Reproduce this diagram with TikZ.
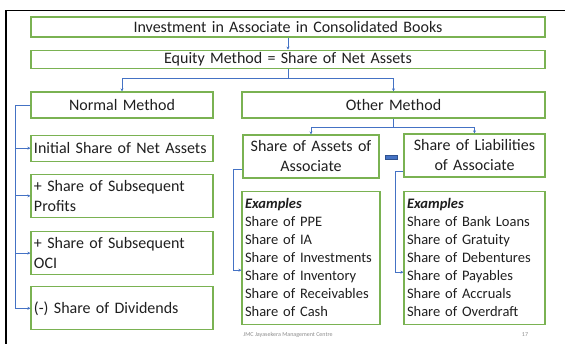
\documentclass[tikz,border=0pt]{standalone}
\usepackage{fontspec}
\setmainfont{Carlito}
\usetikzlibrary{arrows.meta,shapes,positioning}
\usetikzlibrary{calc}
\definecolor{boxgreen}{RGB}{122,178,82}
\definecolor{linkblue}{RGB}{68,114,196}
\definecolor{minusedge}{RGB}{47,82,143}

\begin{document}
\begin{tikzpicture}[x=1pt, y=-1pt, auto]
            \tikzstyle{block} = [rectangle, draw=boxgreen, line width=1.2pt, inner xsep=3pt, inner ysep=0pt, font=\fontsize{16}{20}\selectfont, text=black!88, text centered]
            \tikzstyle{wideblock} = [block, text width=508pt]
            \tikzstyle{leftblock} = [block, text width=176pt, align=left]
            \tikzstyle{listblock} = [block, align=left, font=\fontsize{14.5}{18}\selectfont]
            \tikzstyle{link} = [linkblue, line width=0.8pt, -{Stealth[length=3pt,width=3pt]}]
            \tikzstyle{footer} = [font=\fontsize{6}{7}\selectfont, text=black!45]

            \useasboundingbox (0,0) rectangle (565,344);
            \draw [line width=1.6pt] (6,344) -- (6,10.5) -- (565,10.5);

            \node [wideblock, minimum height=20pt] (invest) at (288,27) {Investment in Associate in Consolidated Books};
            \node [wideblock, minimum height=18pt, below=12pt of invest] (equity) {Equity Method = Share of Net Assets};
            \node [block, text width=176pt, minimum height=26pt] (normal) at (122,105) {Normal Method};
            \node [block, text width=297pt, minimum height=26pt] (other) at (393.5,105) {Other Method};

            \node [leftblock, minimum height=26pt, below=16pt of normal] (initial) {Initial Share of Net Assets};
            \node [leftblock, minimum height=43pt, below=12pt of initial] (profits) {+ Share of Subsequent\\Profits};
            \node [leftblock, minimum height=43pt, below=13pt of profits] (oci) {+ Share of Subsequent\\OCI};
            \node [leftblock, minimum height=43pt, below=11pt of oci] (dividends) {(-) Share of Dividends};

            \node [block, text width=130pt, minimum height=43pt] (assets) at (311,156.5) {Share of Assets of\\Associate};
            \node [block, text width=135pt, minimum height=43pt] (liabs) at (474.5,155.5) {Share of Liabilities\\of Associate};
            \node [listblock, text width=132pt, minimum height=133pt, below=12pt of assets] (assetlist) {\textbf{\textit{Examples}}\\Share of PPE\\Share of IA\\Share of Investments\\Share of Inventory\\Share of Receivables\\Share of Cash};
            \node [listblock, text width=135pt, minimum height=133pt, below=13pt of liabs] (liablist) {\textbf{\textit{Examples}}\\Share of Bank Loans\\Share of Gratuity\\Share of Debentures\\Share of Payables\\Share of Accruals\\Share of Overdraft};
            \node [rectangle, draw=minusedge, fill=linkblue, line width=0.5pt, minimum width=12pt, minimum height=4pt, inner sep=0pt] (minus) at (391,157) {};

            \draw [link] (invest) -- (equity);
            \draw [link] (equity.south) -- ++(0,10) -| (normal.north);
            \draw [link] (equity.south) -- ++(0,10) -| (other.north);
            \draw [link] (other.south) -- ++(0,9) -| (assets.north);
            \draw [link] (other.south) -- ++(0,9) -| (liabs.north);
            \draw [link] (normal.west) -- ++(-15,0) |- (initial.west);
            \draw [link] (normal.west) -- ++(-15,0) |- (profits.west);
            \draw [link] (normal.west) -- ++(-15,0) |- (oci.west);
            \draw [link] (normal.west) -- ++(-15,0) |- (dividends.west);
            \draw [link] ([yshift=-12.5pt]assets.west) -- ++(-9,0) |- ([yshift=-12.5pt]assetlist.west);
            \draw [link] ([yshift=-15.5pt]liabs.west) -- ++(-8,0) |- ([yshift=-14.5pt]liablist.west);

            \node [footer] (centre) at (288,335) {JMC Jayasekera Management Centre};
            \node [footer] (page) at (525,335) {17};
        \end{tikzpicture}
\end{document}
